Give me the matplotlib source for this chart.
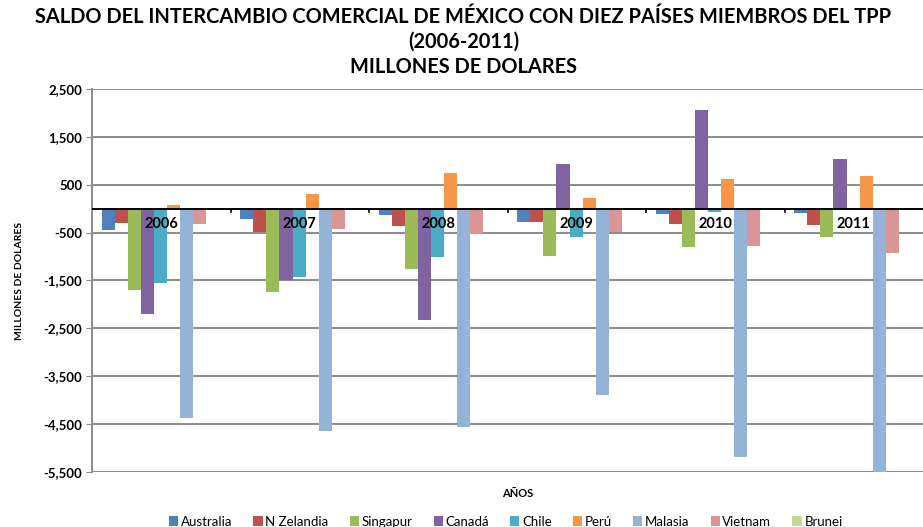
import numpy as np
import matplotlib
matplotlib.use('Agg')
import matplotlib.pyplot as plt
from matplotlib.ticker import FuncFormatter

plt.rcParams['font.family'] = ['Lato', 'DejaVu Sans']

# datos (millones de dolares)
years = ['2006', '2007', '2008', '2009', '2010', '2011']
countries = ['Australia', 'N Zelandia', 'Singapur', 'Canadá', 'Chile',
             'Perú', 'Malasia', 'Vietnam', 'Brunei']
australia = [-450, -210, -130, -270, -110, -90]
nzelandia = [-290, -480, -360, -280, -320, -350]
singapur = [-1700, -1740, -1260, -990, -800, -590]
canada = [-2200, -1480, -2330, 930, 2070, 1045]
chile = [-1560, -1430, -1000, -600, -75, -30]
peru = [70, 300, 750, 230, 625, 690]
malasia = [-4370, -4635, -4555, -3895, -5190, -5500]
vietnam = [-330, -420, -530, -495, -770, -920]
brunei = [-5, -5, -5, -5, -5, -5]

series = [australia, nzelandia, singapur, canada, chile, peru, malasia, vietnam, brunei]
colors = ['#4F81BD', '#C0504D', '#9BBB59', '#8064A2', '#4BACC6',
          '#F79646', '#95B3D7', '#D99694', '#C3D69B']

fig = plt.figure(figsize=(9.23, 5.27), dpi=100)
ax = fig.add_axes([0.0997, 0.1044, 0.9003, 0.7267])

x = np.arange(len(years))
w = 0.0945
for i, (vals, c) in enumerate(zip(series, colors)):
    ax.bar(x - 0.5 + 0.07 + w * (i + 0.5), vals, width=w, color=c,
           label=countries[i], zorder=3)

ax.set_xlim(-0.5, len(years) - 0.5)
ax.set_ylim(-5500, 2500)
ax.set_yticks(np.arange(-5500, 2501, 1000))
ax.yaxis.set_major_formatter(FuncFormatter(lambda v, p: f'{int(v):,}'))
ax.grid(axis='y', color='#8c8c8c', linewidth=1.4, zorder=0)
ax.axhline(0, color='black', linewidth=1.4, zorder=4)

# etiquetas de años sobre el eje cero
ax.set_xticks([])
for xi, yr in zip(x, years):
    ax.text(xi, -330, yr, ha='center', va='center', fontsize=10.5,
            fontweight='bold', zorder=5)
for xb in np.arange(0.5, len(years) - 0.5, 1):
    ax.plot([xb, xb], [0, -60], color='black', linewidth=1.2, zorder=4)

for s in ['top', 'right', 'bottom']:
    ax.spines[s].set_visible(False)
ax.spines['left'].set_color('#8c8c8c')
ax.spines['left'].set_linewidth(1.4)
ax.tick_params(axis='y', length=4, color='#8c8c8c', labelsize=9.5, pad=3)
for lab in ax.get_yticklabels():
    lab.set_fontweight('bold')

ax.set_ylabel('MILLONES DE DOLARES', fontsize=7.5, fontweight='bold', labelpad=14)
fig.text(0.561, 0.064, 'AÑOS', ha='center', va='center', fontsize=8,
         fontweight='bold')

fig.text(0.502, 0.967, 'SALDO DEL INTERCAMBIO COMERCIAL DE MÉXICO CON DIEZ PAÍSES MIEMBROS DEL TPP',
         ha='center', va='center', fontsize=14.4, fontweight='bold')
fig.text(0.502, 0.920, '(2006-2011)', ha='center', va='center', fontsize=14.4,
         fontweight='bold')
fig.text(0.502, 0.873, 'MILLONES DE DOLARES', ha='center', va='center',
         fontsize=14.4, fontweight='bold')

fig.legend(loc='center', bbox_to_anchor=(0.548, 0.01), ncol=9, frameon=False,
           fontsize=9.5, handlelength=0.7, handleheight=0.7, handletextpad=0.2,
           columnspacing=1.6)

fig.savefig('out.png', dpi=100)
